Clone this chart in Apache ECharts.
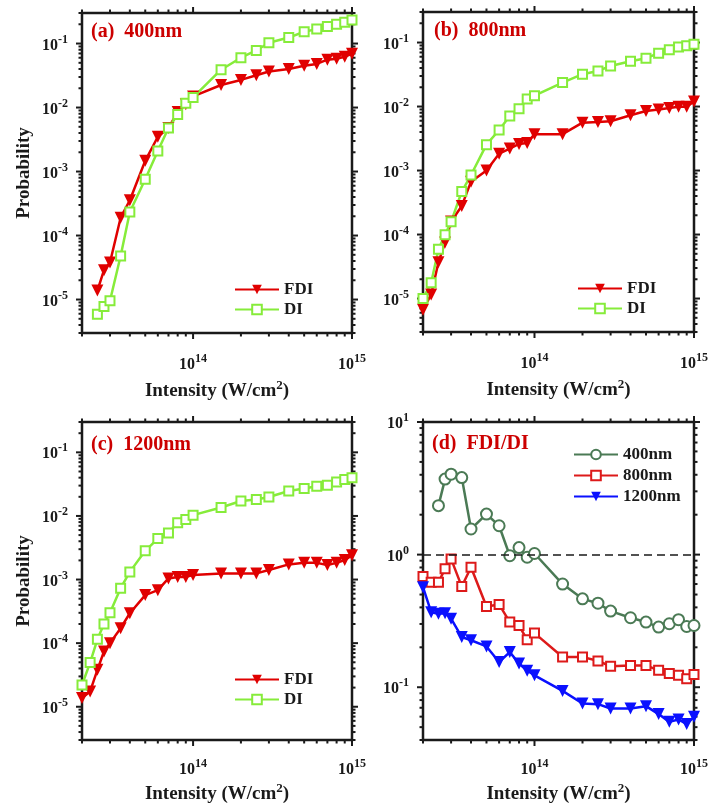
<!DOCTYPE html>
<html>
<head>
<meta charset="utf-8">
<title>FDI / DI probability</title>
<script src="https://cdn.jsdelivr.net/npm/echarts@6/dist/echarts.min.js"></script>
<style>
  html, body { margin: 0; padding: 0; background: #fff; }
  #chart { width: 710px; height: 807px; }
</style>
</head>
<body>
<div id="chart"></div>
<script>
// intensity grids (W/cm^2)
const intensityShort = [2.5e13, 2.75e13, 3e13, 3.5e13, 4e13, 5e13, 6e13, 7e13, 8e13, 9e13, 1e14,
  1.5e14, 2e14, 2.5e14, 3e14, 4e14, 5e14, 6e14, 7e14, 8e14, 9e14, 1e15];
const intensityLong = [2e13, 2.25e13, 2.5e13, 2.75e13, 3e13, 3.5e13, 4e13, 5e13, 6e13, 7e13, 8e13, 9e13, 1e14,
  1.5e14, 2e14, 2.5e14, 3e14, 4e14, 5e14, 6e14, 7e14, 8e14, 9e14, 1e15];

// (a) 400nm
const fdi400 = [1.38e-5, 2.87e-5, 3.8e-5, 1.9e-4, 3.56e-4, 1.47e-3, 3.5e-3, 4.8e-3, 8.5e-3, 1.13e-2, 1.49e-2,
  2.25e-2, 2.7e-2, 3.2e-2, 3.65e-2, 4.0e-2, 4.5e-2, 4.8e-2, 5.6e-2, 5.8e-2, 6.2e-2, 6.95e-2];
const di400 = [5.9e-6, 7.8e-6, 9.6e-6, 4.8e-5, 2.33e-4, 7.6e-4, 2.1e-3, 4.8e-3, 7.8e-3, 1.17e-2, 1.44e-2,
  3.9e-2, 6.0e-2, 7.8e-2, 0.103, 0.124, 0.153, 0.168, 0.184, 0.2, 0.215, 0.233];

// (b) 800nm
const fdi800 = [6.7e-6, 1.16e-5, 3.7e-5, 7.5e-5, 1.6e-4, 2.8e-4, 6.7e-4, 1.0e-3, 1.83e-3, 2.2e-3, 2.6e-3, 2.7e-3, 3.7e-3,
  3.7e-3, 5.6e-3, 5.75e-3, 5.9e-3, 7.3e-3, 8.5e-3, 9.0e-3, 9.5e-3, 9.9e-3, 9.9e-3, 1.2e-2];
const di800 = [1.0e-5, 1.76e-5, 5.9e-5, 9.9e-5, 1.58e-4, 4.7e-4, 8.5e-4, 2.54e-3, 4.3e-3, 7.1e-3, 9.2e-3, 1.31e-2, 1.48e-2,
  2.37e-2, 3.2e-2, 3.6e-2, 4.3e-2, 5.1e-2, 5.7e-2, 6.8e-2, 7.7e-2, 8.5e-2, 8.9e-2, 9.4e-2];

// (c) 1200nm
const fdi1200 = [1.37e-5, 1.74e-5, 3.8e-5, 7.4e-5, 1.0e-4, 1.72e-4, 2.95e-4, 5.7e-4, 6.8e-4, 1.04e-3, 1.1e-3, 1.1e-3, 1.18e-3,
  1.25e-3, 1.25e-3, 1.25e-3, 1.41e-3, 1.73e-3, 1.83e-3, 1.83e-3, 1.69e-3, 1.83e-3, 2.02e-3, 2.42e-3];
const di1200 = [2.2e-5, 4.95e-5, 1.15e-4, 2.0e-4, 3.0e-4, 7.3e-4, 1.32e-3, 2.83e-3, 4.4e-3, 5.4e-3, 7.8e-3, 8.8e-3, 1.03e-2,
  1.36e-2, 1.72e-2, 1.81e-2, 1.99e-2, 2.47e-2, 2.7e-2, 2.93e-2, 3.04e-2, 3.42e-2, 3.73e-2, 4.0e-2];

// (d) FDI/DI
const ratio400 = [2.34, 3.71, 4.04, 3.81, 1.56, 2.02, 1.65, 0.98, 1.13, 0.955, 1.02,
  0.60, 0.464, 0.43, 0.375, 0.334, 0.31, 0.284, 0.301, 0.323, 0.287, 0.292];
const ratio800 = [0.683, 0.619, 0.619, 0.781, 0.928, 0.574, 0.803, 0.406, 0.421, 0.31, 0.292, 0.228, 0.256,
  0.169, 0.169, 0.158, 0.144, 0.146, 0.146, 0.134, 0.127, 0.123, 0.116, 0.125];
const ratio1200 = [0.568, 0.368, 0.358, 0.362, 0.329, 0.239, 0.226, 0.203, 0.155, 0.184, 0.151, 0.133, 0.123,
  0.0938, 0.0754, 0.0745, 0.0691, 0.0691, 0.072, 0.0627, 0.0548, 0.0571, 0.0527, 0.0598];

const xRange = [2e13, 1e15];
const probRange = [3e-6, 3e-1];
const ratioRange = [0.04, 10];

const SERIF = '"Liberation Serif", "Times New Roman", serif';
const RED = '#e00000';
const GREEN = '#86ec3a';
const DKGREEN = '#4b7a55';
const RED2 = '#dd1a1a';
const BLUE = '#0a10ff';
const TITLE_RED = '#cc0000';
const INK = '#1a1a1a';

const grids = [
  { left: 82, top: 13, width: 270, height: 320 },
  { left: 423, top: 12, width: 271, height: 320 },
  { left: 82, top: 422, width: 270, height: 318 },
  { left: 423, top: 422, width: 271, height: 318 }
];

function pairs(xs, ys) { return xs.map((x, i) => [x, ys[i]]); }

function powLabel(v) {
  const e = Math.log10(v);
  const r = Math.round(e);
  if (Math.abs(e - r) > 1e-6) return '';
  return '{b|10}{s|' + r + '}';
}

const supRich = {
  b: { fontFamily: SERIF, fontWeight: 'bold', fontSize: 16, color: INK, verticalAlign: 'bottom', lineHeight: 20 },
  s: { fontFamily: SERIF, fontWeight: 'bold', fontSize: 12, color: INK, verticalAlign: 'top', lineHeight: 10 }
};

const nameRich = {
  n: { fontFamily: SERIF, fontWeight: 'bold', fontSize: 19, color: INK, verticalAlign: 'bottom', lineHeight: 22 },
  s: { fontFamily: SERIF, fontWeight: 'bold', fontSize: 13, color: INK, verticalAlign: 'top', lineHeight: 12 }
};

function xAxisFor(i, nameGap, labelMargin) {
  return {
    type: 'log', gridIndex: i, min: xRange[0], max: xRange[1],
    axisLine: { show: false }, axisTick: { show: false }, splitLine: { show: false },
    axisLabel: { formatter: powLabel, rich: supRich, margin: labelMargin, showMinLabel: true, showMaxLabel: true, hideOverlap: false },
    name: '{n|Intensity (W/cm}{s|2}{n|)}', nameLocation: 'middle', nameGap: nameGap,
    nameTextStyle: { rich: nameRich }
  };
}

function yAxisFor(i, range, withName) {
  return {
    type: 'log', gridIndex: i, min: range[0], max: range[1],
    axisLine: { show: false }, axisTick: { show: false }, splitLine: { show: false },
    axisLabel: { formatter: powLabel, rich: supRich, margin: 14, showMinLabel: true, showMaxLabel: true, hideOverlap: false },
    name: withName ? 'Probability' : '', nameLocation: 'middle', nameGap: 48, nameRotate: 90,
    nameTextStyle: { fontFamily: SERIF, fontWeight: 'bold', fontSize: 19, color: INK }
  };
}

function fdiSeries(i, xs, ys) {
  return {
    name: 'FDI', type: 'line', xAxisIndex: i, yAxisIndex: i, data: pairs(xs, ys),
    symbol: 'triangle', symbolRotate: 180, symbolSize: 12,
    itemStyle: { color: RED }, lineStyle: { width: 2.5, color: RED }
  };
}

function diSeries(i, xs, ys) {
  return {
    name: 'DI', type: 'line', xAxisIndex: i, yAxisIndex: i, data: pairs(xs, ys),
    symbol: 'emptyRect', symbolSize: 9,
    itemStyle: { color: GREEN, borderWidth: 2 }, lineStyle: { width: 2.5, color: GREEN }
  };
}

const legendText = { fontFamily: SERIF, fontWeight: 'bold', fontSize: 17, color: INK };
function legendAt(left, top, names, gap) {
  return {
    data: names, left: left, top: top, orient: 'vertical', itemWidth: 44, itemHeight: 12, itemGap: gap,
    padding: 0, textStyle: legendText, selectedMode: false
  };
}

const titleStyle = { fontFamily: SERIF, fontWeight: 'bold', fontSize: 20, color: TITLE_RED };
function panelTitle(text, left, top) {
  return { text: text, left: left, top: top, padding: 0, textStyle: titleStyle };
}

const chart = echarts.init(document.getElementById('chart'), null, { renderer: 'canvas' });

chart.setOption({
  animation: false,
  backgroundColor: '#fff',
  title: [
    panelTitle('(a)  400nm', 91, 22),
    panelTitle('(b)  800nm', 434, 21),
    panelTitle('(c)  1200nm', 91, 435),
    panelTitle('(d)  FDI/DI', 432, 434)
  ],
  grid: grids.map(g => Object.assign({ show: true, borderColor: INK, borderWidth: 2.5, backgroundColor: 'transparent', outerBoundsMode: 'none' }, g)),
  legend: [
    legendAt(234, 281, ['FDI', 'DI'], 3),
    legendAt(577, 280, ['FDI', 'DI'], 3),
    legendAt(234, 671, ['FDI', 'DI'], 3),
    legendAt(573, 446, ['400nm', '800nm', '1200nm'], 4)
  ],
  xAxis: [xAxisFor(0, 46, 20), xAxisFor(1, 46, 20), xAxisFor(2, 42, 18), xAxisFor(3, 42, 18)],
  yAxis: [yAxisFor(0, probRange, true), yAxisFor(1, probRange, false), yAxisFor(2, probRange, true), yAxisFor(3, ratioRange, false)],
  series: [
    fdiSeries(0, intensityShort, fdi400),
    diSeries(0, intensityShort, di400),
    fdiSeries(1, intensityLong, fdi800),
    diSeries(1, intensityLong, di800),
    fdiSeries(2, intensityLong, fdi1200),
    diSeries(2, intensityLong, di1200),
    {
      name: '400nm', type: 'line', xAxisIndex: 3, yAxisIndex: 3, data: pairs(intensityShort, ratio400),
      symbol: 'emptyCircle', symbolSize: 11,
      itemStyle: { color: DKGREEN, borderWidth: 2.5 }, lineStyle: { width: 2.5, color: DKGREEN },
      markLine: {
        silent: true, symbol: 'none', label: { show: false },
        lineStyle: { type: [8, 5], color: INK, width: 1.6 },
        data: [{ yAxis: 1 }]
      }
    },
    {
      name: '800nm', type: 'line', xAxisIndex: 3, yAxisIndex: 3, data: pairs(intensityLong, ratio800),
      symbol: 'emptyRect', symbolSize: 9,
      itemStyle: { color: RED2, borderWidth: 2 }, lineStyle: { width: 2.5, color: RED2 }
    },
    {
      name: '1200nm', type: 'line', xAxisIndex: 3, yAxisIndex: 3, data: pairs(intensityLong, ratio1200),
      symbol: 'triangle', symbolRotate: 180, symbolSize: 12,
      itemStyle: { color: BLUE }, lineStyle: { width: 2.5, color: BLUE }
    }
  ]
});

// matlab style outward ticks (decades + 2..9 minors) on all four sides
function decadeTicks(lo, hi) {
  const out = [];
  for (let k = Math.floor(Math.log10(lo)); k <= Math.ceil(Math.log10(hi)); k++) {
    for (let m = 1; m <= 9; m++) {
      const v = m * Math.pow(10, k);
      if (v >= lo * 0.9999 && v <= hi * 1.0001) out.push({ v: v, major: m === 1 });
    }
  }
  return out;
}

const yRanges = [probRange, probRange, probRange, ratioRange];
const tickEls = [];
grids.forEach((g, i) => {
  const yr = yRanges[i];
  const p0 = chart.convertToPixel({ gridIndex: i }, [xRange[0], yr[0]]);
  const p1 = chart.convertToPixel({ gridIndex: i }, [xRange[1], yr[1]]);
  const tickStyle = { stroke: INK, lineWidth: 2 };
  decadeTicks(xRange[0], xRange[1]).forEach(t => {
    const px = chart.convertToPixel({ gridIndex: i }, [t.v, yr[0]])[0];
    const len = t.major ? 6 : 3.5;
    tickEls.push({ type: 'line', silent: true, shape: { x1: px, y1: p0[1], x2: px, y2: p0[1] + len }, style: tickStyle });
    tickEls.push({ type: 'line', silent: true, shape: { x1: px, y1: p1[1], x2: px, y2: p1[1] - len }, style: tickStyle });
  });
  decadeTicks(yr[0], yr[1]).forEach(t => {
    const py = chart.convertToPixel({ gridIndex: i }, [xRange[0], t.v])[1];
    const len = t.major ? 6 : 3.5;
    tickEls.push({ type: 'line', silent: true, shape: { x1: p0[0], y1: py, x2: p0[0] - len, y2: py }, style: tickStyle });
    tickEls.push({ type: 'line', silent: true, shape: { x1: p1[0], y1: py, x2: p1[0] + len, y2: py }, style: tickStyle });
  });
});
chart.setOption({ graphic: tickEls });
</script>
</body>
</html>
